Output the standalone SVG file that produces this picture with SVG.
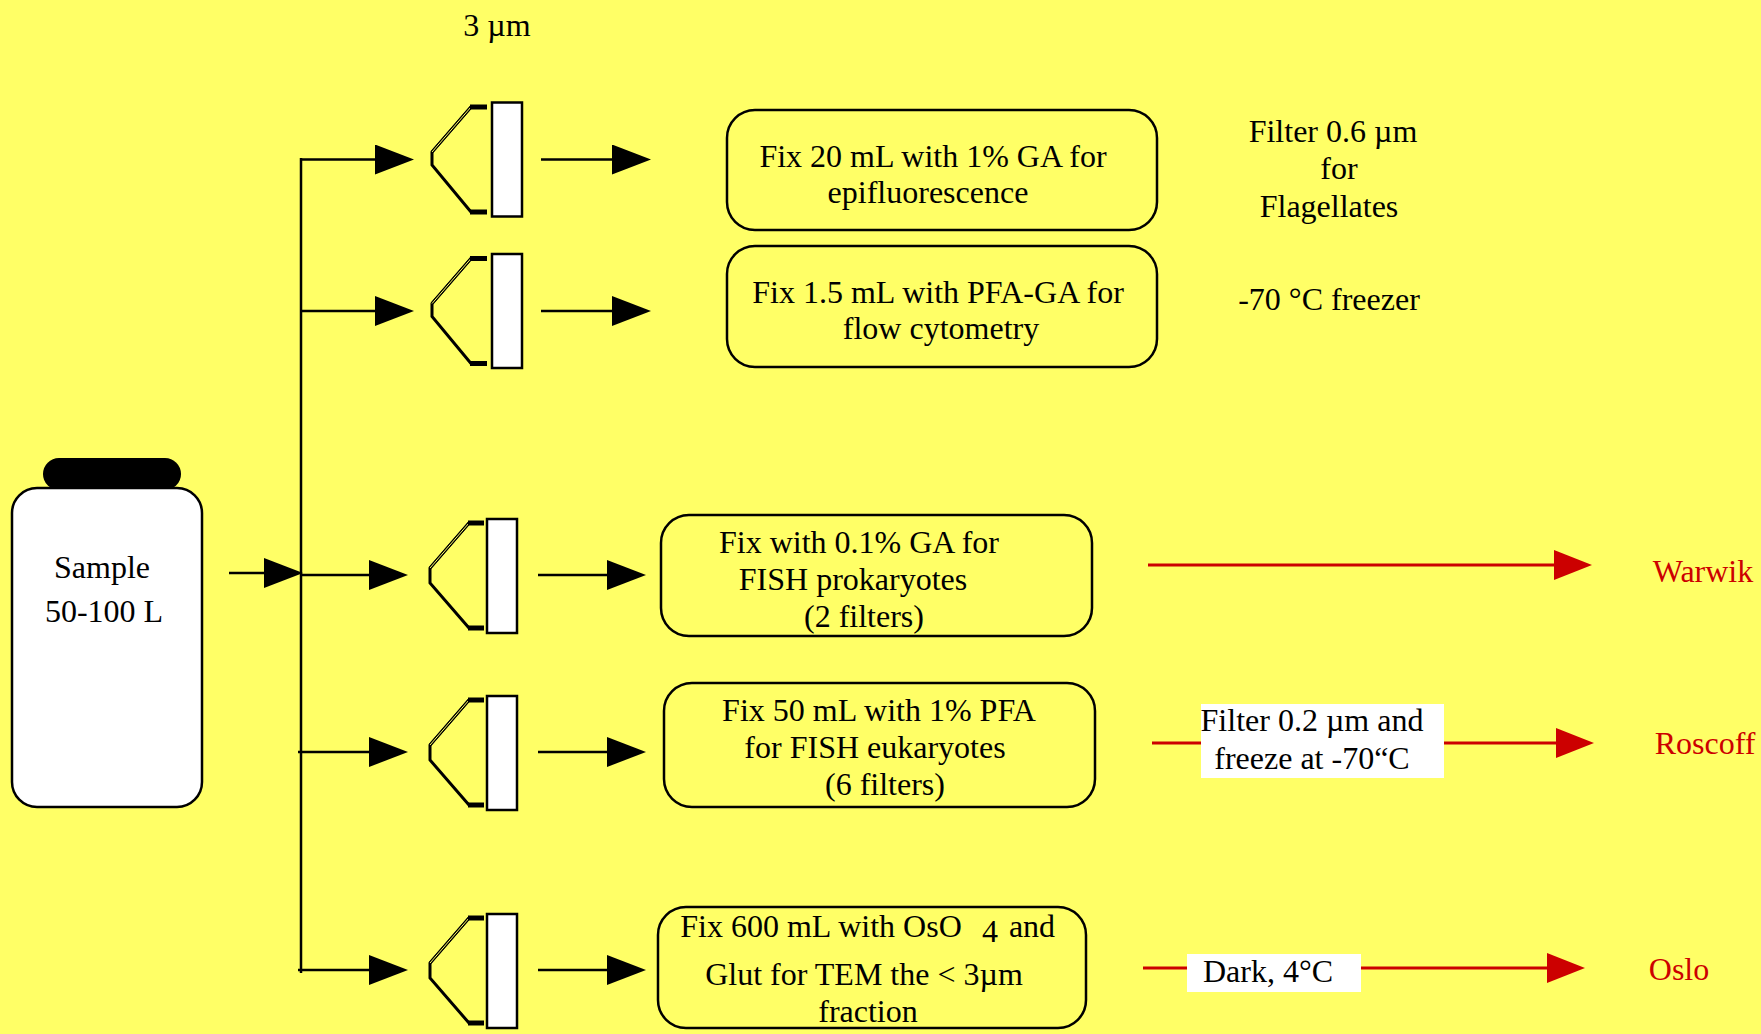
<svg xmlns="http://www.w3.org/2000/svg" xmlns:xlink="http://www.w3.org/1999/xlink" width="1761" height="1034" viewBox="0 0 1761 1034">
<style>
.t{font-family:"Liberation Serif","Times New Roman",serif;font-size:32px;fill:#000;text-anchor:middle}
.r{fill:#CC0000}
.box{fill:none;stroke:#000;stroke-width:2.5}
.ln{stroke:#000;stroke-width:2.5;fill:none}
.rl{stroke:#CC0000;stroke-width:3;fill:none}
.fr{fill:#fff;stroke:#000;stroke-width:2.5}
.fun{fill:none;stroke:#000;stroke-width:3;stroke-linejoin:miter}
.brk{stroke:#000;stroke-width:5}
.dbl{stroke:#FFFF66;stroke-width:1}
</style>
<defs>
<marker id="ah" markerUnits="userSpaceOnUse" markerWidth="40" markerHeight="30" refX="29" refY="15" orient="auto">
<path d="M0,0 L39,15 L0,30 z" fill="#000"/>
</marker>
<marker id="rah" markerUnits="userSpaceOnUse" markerWidth="40" markerHeight="30" refX="28" refY="15" orient="auto">
<path d="M0,0 L38,15 L0,30 z" fill="#CC0000"/>
</marker>
<g id="filterA">
<rect class="fr" x="492" y="-57" width="30" height="114"/>
<path class="fun" d="M471,-52.5 L432,-7.5 L432,5.5 L471,52.5"/>
<path class="fun" d="M471,-52.5 L432,-7.5" stroke-width="5"/>
<path class="dbl" d="M471,-52.5 L432,-7.5"/>
<line class="brk" x1="470" y1="-52.5" x2="487" y2="-52.5"/>
<line class="brk" x1="470" y1="52.5" x2="487" y2="52.5"/>
</g>
<g id="filterB">
<rect class="fr" x="487" y="-56" width="30" height="114"/>
<path class="fun" d="M469,-52 L430,-7 L430,8 L469,53"/>
<path class="fun" d="M469,-52 L430,-7" stroke-width="5"/>
<path class="dbl" d="M469,-52 L430,-7"/>
<line class="brk" x1="468" y1="-52" x2="484" y2="-52"/>
<line class="brk" x1="468" y1="53" x2="484" y2="53"/>
</g>
</defs>
<rect x="0" y="0" width="1761" height="1034" fill="#FFFF66"/>

<text class="t" x="497" y="36">3 µm</text>

<g id="sample">
<rect x="43" y="458" width="138" height="32" rx="16" fill="#000"/>
<rect x="12" y="488" width="190" height="319" rx="25" fill="#fff" stroke="#000" stroke-width="2.5"/>
<text class="t" x="102" y="578">Sample</text>
<text class="t" x="104" y="622">50-100 L</text>
</g>

<g id="filter1"><use xlink:href="#filterA" href="#filterA" x="0" y="159.5"/></g>
<g id="filter2"><use xlink:href="#filterA" href="#filterA" x="0" y="311"/></g>
<g id="filter3"><use xlink:href="#filterB" href="#filterB" x="0" y="575"/></g>
<g id="filter4"><use xlink:href="#filterB" href="#filterB" x="0" y="752"/></g>
<g id="filter5"><use xlink:href="#filterB" href="#filterB" x="0" y="970"/></g>

<g id="box1">
<rect class="box" x="727" y="110" width="430" height="120" rx="28"/>
<text class="t" x="933" y="167">Fix 20 mL with 1% GA for</text>
<text class="t" x="928" y="203">epifluorescence</text>
</g>
<g id="box2">
<rect class="box" x="727" y="246" width="430" height="121" rx="28"/>
<text class="t" x="938" y="303">Fix 1.5 mL with PFA-GA for</text>
<text class="t" x="941" y="339">flow cytometry</text>
</g>
<g id="note1">
<text class="t" x="1333" y="142">Filter 0.6 µm</text>
<text class="t" x="1339" y="179">for</text>
<text class="t" x="1329" y="217">Flagellates</text>
</g>
<g id="note2">
<text class="t" x="1329" y="310">-70 °C freezer</text>
</g>
<g id="box3">
<rect class="box" x="661" y="515" width="431" height="121" rx="28"/>
<text class="t" x="859" y="553">Fix with 0.1% GA for</text>
<text class="t" x="853" y="590">FISH prokaryotes</text>
<text class="t" x="864" y="627">(2 filters)</text>
</g>
<g id="box4">
<rect class="box" x="664" y="683" width="431" height="124" rx="28"/>
<text class="t" x="879" y="721">Fix 50 mL with 1% PFA</text>
<text class="t" x="875" y="758">for FISH eukaryotes</text>
<text class="t" x="885" y="795">(6 filters)</text>
</g>
<g id="box5">
<rect class="box" x="658" y="907" width="428" height="121" rx="28"/>
<text class="t" x="821" y="937">Fix 600 mL with OsO</text>
<text class="t" x="990" y="942">4</text>
<text class="t" x="1032" y="937">and</text>
<text class="t" x="864" y="985">Glut for TEM the &lt; 3µm</text>
<text class="t" x="868" y="1022">fraction</text>
</g>

<g id="connectors">
<line class="ln" x1="301" y1="158" x2="301" y2="973"/>
<line class="ln" x1="229" y1="573" x2="293" y2="573" marker-end="url(#ah)"/>
<line class="ln" x1="301" y1="159.5" x2="404" y2="159.5" marker-end="url(#ah)"/>
<line class="ln" x1="301" y1="311" x2="404" y2="311" marker-end="url(#ah)"/>
<line class="ln" x1="301" y1="575" x2="398" y2="575" marker-end="url(#ah)"/>
<line class="ln" x1="298" y1="752" x2="398" y2="752" marker-end="url(#ah)"/>
<line class="ln" x1="298" y1="970" x2="398" y2="970" marker-end="url(#ah)"/>
<line class="ln" x1="541" y1="159.5" x2="641" y2="159.5" marker-end="url(#ah)"/>
<line class="ln" x1="541" y1="311" x2="641" y2="311" marker-end="url(#ah)"/>
<line class="ln" x1="538" y1="575" x2="636" y2="575" marker-end="url(#ah)"/>
<line class="ln" x1="538" y1="752" x2="636" y2="752" marker-end="url(#ah)"/>
<line class="ln" x1="538" y1="970" x2="636" y2="970" marker-end="url(#ah)"/>
<line class="rl" x1="1148" y1="565" x2="1582" y2="565" marker-end="url(#rah)"/>
<line class="rl" x1="1152" y1="743" x2="1584" y2="743" marker-end="url(#rah)"/>
<line class="rl" x1="1143" y1="968" x2="1575" y2="968" marker-end="url(#rah)"/>
</g>

<g id="label-roscoff">
<rect x="1201" y="704" width="243" height="74" fill="#fff"/>
<text class="t" x="1312" y="731">Filter 0.2 µm and</text>
<text class="t" x="1312" y="769">freeze at -70“C</text>
</g>
<g id="label-oslo">
<rect x="1187" y="954" width="174" height="38" fill="#fff"/>
<text class="t" x="1268" y="982">Dark, 4°C</text>
</g>

<g id="dest-warwik"><text class="t r" x="1703" y="582">Warwik</text></g>
<g id="dest-roscoff"><text class="t r" x="1705" y="754">Roscoff</text></g>
<g id="dest-oslo"><text class="t r" x="1679" y="980">Oslo</text></g>
</svg>
